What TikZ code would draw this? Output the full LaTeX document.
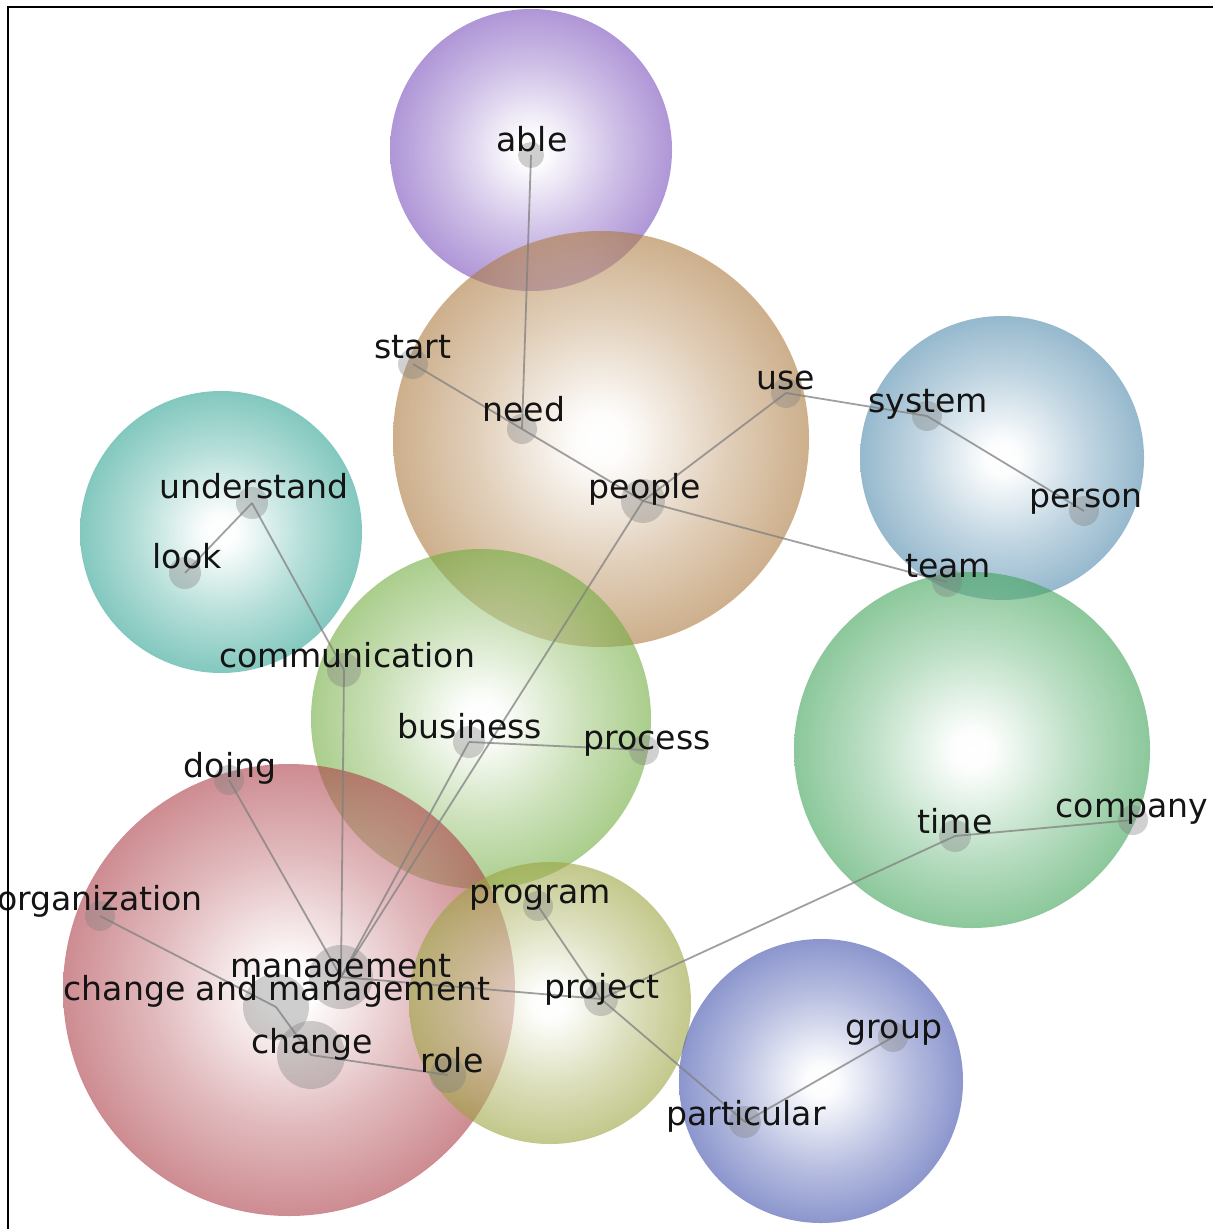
\documentclass[tikz,border=0pt]{standalone}
\usepackage{fontspec}
\setmainfont{DejaVu Sans}
\pgfdeclarelayer{back}
\pgfdeclarelayer{mid}
\pgfsetlayers{back,mid,main}
\colorlet{bubcol}{red}
\pgfdeclareradialshading[bubcol]{bubble}{\pgfpointorigin}{color(0bp)=(white); color(3bp)=(white!97!bubcol); color(15bp)=(bubcol!60!white); color(25bp)=(bubcol); color(50bp)=(bubcol)}
\definecolor{cPurple}{RGB}{122,80,188}
\definecolor{cTan}{RGB}{172,122,63}
\definecolor{cBlue}{RGB}{80,138,172}
\definecolor{cTeal}{RGB}{47,163,147}
\definecolor{cLeaf}{RGB}{113,172,63}
\definecolor{cGreen}{RGB}{63,163,88}
\definecolor{cRed}{RGB}{172,63,72}
\definecolor{cOlive}{RGB}{155,163,63}
\definecolor{cIndigo}{RGB}{63,80,172}
\newcommand\mybubble[4]{\colorlet{bubcol}{#1}\shade[shading=bubble, fill opacity=0.6] (#2,#3) circle[radius=#4];}
\begin{document}
\begin{tikzpicture}[x=0.5pt, y=-0.5pt,
  dot/.style={circle, fill=gray, fill opacity=0.37, draw=none, inner sep=0pt, minimum size=#1},
  dot/.default=15pt,
  lbl/.style={anchor=base, inner sep=0pt, text=black!92, font=\fontsize{16.55}{20}\selectfont},
  link/.style={draw=gray, line width=0.9pt, draw opacity=0.75},
  frame/.style={draw=black, line width=0.9pt}]
\useasboundingbox (0,0) rectangle (1213,1229);
\begin{pgfonlayer}{back}
\mybubble{cPurple}{531}{150}{141}
\mybubble{cTan}{601}{439}{208}
\mybubble{cBlue}{1002}{458}{142}
\mybubble{cTeal}{221}{532}{141}
\mybubble{cLeaf}{481}{719}{170}
\mybubble{cGreen}{972}{750}{178}
\mybubble{cRed}{289}{990}{226}
\mybubble{cOlive}{550}{1003}{141}
\mybubble{cIndigo}{821}{1081}{142}
\end{pgfonlayer}
% dots
\node[dot=13pt] (able) at (531,155) {};
\node[dot] (start) at (413,364) {};
\node[dot] (need) at (522,429) {};
\node[dot] (use) at (786,393) {};
\node[dot=22pt] (people) at (643,501) {};
\node[dot] (system) at (927,416) {};
\node[dot] (person) at (1084,511) {};
\node[dot] (team) at (947,582) {};
\node[dot=16pt] (understand) at (252,503) {};
\node[dot=16pt] (look) at (185,573) {};
\node[dot=17pt] (communication) at (344,670) {};
\node[dot=16pt] (business) at (469,742) {};
\node[dot] (process) at (644,750) {};
\node[dot] (doing) at (229,780) {};
\node[dot=16pt] (time) at (955,836) {};
\node[dot] (company) at (1133,820) {};
\node[dot] (organization) at (100,916) {};
\node[dot=32pt] (management) at (341,977) {};
\node[dot=33pt] (cam) at (276,1007) {};
\node[dot=34pt] (change) at (311,1055) {};
\node[dot=18pt] (role) at (448,1075) {};
\node[dot] (program) at (538,906) {};
\node[dot=17pt] (project) at (601,999) {};
\node[dot=16pt] (particular) at (745,1122) {};
\node[dot] (group) at (893,1037) {};
% edges
\begin{pgfonlayer}{mid}
\draw[link] (able.center) -- (need.center);
\draw[link] (start.center) -- (need.center);
\draw[link] (need.center) -- (people.center);
\draw[link] (people.center) -- (use.center);
\draw[link] (use.center) -- (system.center);
\draw[link] (system.center) -- (person.center);
\draw[link] (people.center) -- (team.center);
\draw[link] (understand.center) -- (look.center);
\draw[link] (understand.center) -- (communication.center);
\draw[link] (communication.center) -- (management.center);
\draw[link] (business.center) -- (process.center);
\draw[link] (business.center) -- (management.center);
\draw[link] (people.center) -- (management.center);
\draw[link] (doing.center) -- (management.center);
\draw[link] (organization.center) -- (cam.center);
\draw[link] (cam.center) -- (change.center);
\draw[link] (management.center) -- (project.center);
\draw[link] (change.center) -- (role.center);
\draw[link] (program.center) -- (project.center);
\draw[link] (project.center) -- (particular.center);
\draw[link] (project.center) -- (time.center);
\draw[link] (particular.center) -- (group.center);
\draw[link] (time.center) -- (company.center);
\end{pgfonlayer}
% labels
\node[lbl] (t-able) at (532,152) {able};
\node[lbl] (t-start) at (413,359) {start};
\node[lbl] (t-need) at (524,422) {need};
\node[lbl] (t-use) at (786,390) {use};
\node[lbl] (t-people) at (645,498) {people};
\node[lbl] (t-system) at (928,412) {system};
\node[lbl] (t-person) at (1086,507) {person};
\node[lbl] (t-team) at (948,577) {team};
\node[lbl] (t-understand) at (254,498) {understand};
\node[lbl] (t-look) at (187,568) {look};
\node[lbl] (t-communication) at (347,667) {communication};
\node[lbl] (t-business) at (470,738) {business};
\node[lbl] (t-process) at (647,749) {process};
\node[lbl] (t-doing) at (230,777) {doing};
\node[lbl] (t-time) at (955,833) {time};
\node[lbl] (t-company) at (1132,817) {company};
\node[lbl] (t-organization) at (100,910) {organization};
\node[lbl] (t-management) at (341,977) {management};
\node[lbl] (t-cam) at (277,1000) {change and management};
\node[lbl] (t-change) at (312,1053) {change};
\node[lbl] (t-role) at (452,1072) {role};
\node[lbl] (t-program) at (540,903) {program};
\node[lbl] (t-project) at (602,998) {project};
\node[lbl] (t-particular) at (746,1125) {particular};
\node[lbl] (t-group) at (894,1038) {group};
% frame
\coordinate (fbl) at (8,1229);
\coordinate (ftl) at (8,7);
\coordinate (ftr) at (1213,7);
\draw[frame] (fbl) -- (ftl) -- (ftr);
\end{tikzpicture}
\end{document}
